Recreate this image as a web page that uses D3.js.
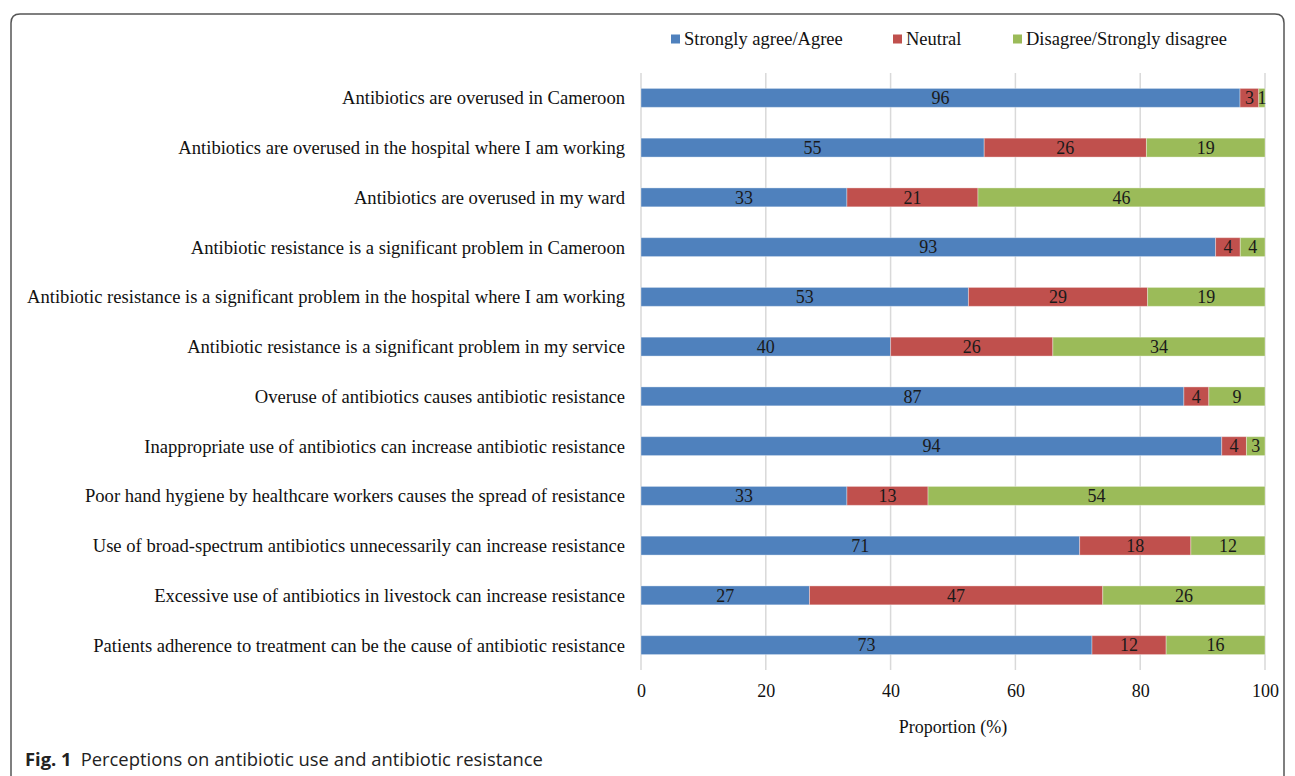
<!DOCTYPE html>
<meta charset="utf-8">
<style>
body { margin: 0; background: #fff; }
svg text { font-family: "Liberation Serif", "Times New Roman", serif; fill: #111; }
.cat { font-size: 18.6px; }
.val { font-size: 18px; fill: #1a1a1a; }
.tick text { font-size: 18px; }
.legend text { font-size: 18.5px; }
.caption { font-family: "Open Sans", "Noto Sans", sans-serif; font-size: 18.4px; fill: #222; }
</style>
<svg id="chart" width="1295" height="776"></svg>
<script src="https://cdn.jsdelivr.net/npm/d3@7"></script>
<script>
// statements, top to bottom
var statements = [
  "Antibiotics are overused in Cameroon",
  "Antibiotics are overused in the hospital where I am working",
  "Antibiotics are overused in my ward",
  "Antibiotic resistance is a  significant problem in Cameroon",
  "Antibiotic resistance is a significant problem in the hospital where I am working",
  "Antibiotic resistance is a significant problem in my service",
  "Overuse of antibiotics causes antibiotic resistance",
  "Inappropriate use of antibiotics can increase antibiotic resistance",
  "Poor hand hygiene by healthcare workers causes the spread of resistance",
  "Use of broad-spectrum antibiotics unnecessarily can increase resistance",
  "Excessive use of antibiotics in livestock can increase resistance",
  "Patients adherence to treatment can be the cause of antibiotic resistance"
];
var agree    = [96, 55, 33, 93, 53, 40, 87, 94, 33, 71, 27, 73];
var neutral  = [3, 26, 21, 4, 29, 26, 4, 4, 13, 18, 47, 12];
var disagree = [1, 19, 46, 4, 19, 34, 9, 3, 54, 12, 26, 16];
var seriesNames = ["Strongly agree/Agree", "Neutral", "Disagree/Strongly disagree"];
var seriesColors = ["#4f81bd", "#c0504d", "#9bbb59"];
var tickValues = [0, 20, 40, 60, 80, 100];

var svg = d3.select("#chart");

// figure frame (rounded top corners, open at the bottom)
svg.append("path")
  .attr("d", "M11,790 L11,23 Q11,14 20,14 L1275,14 Q1284,14 1284,23 L1284,790")
  .attr("fill", "none")
  .attr("stroke", "#555")
  .attr("stroke-width", 1.5);

var x = d3.scaleLinear().domain([0, 100]).range([641, 1265]);
var y = d3.scaleBand().domain(statements).range([73, 670]).paddingInner(0.62).paddingOuter(0.31);

var rows = statements.map(function(s, i) {
  return {statement: s, a: agree[i], n: neutral[i], d: disagree[i]};
});
// bars are shares of the row total, so they all end at 100
var stack = d3.stack().keys(["a", "n", "d"]).offset(d3.stackOffsetExpand);
var layers = stack(rows);

// vertical gridlines
svg.append("g")
  .selectAll("line")
  .data(tickValues)
  .join("line")
    .attr("x1", function(d) { return x(d); })
    .attr("x2", function(d) { return x(d); })
    .attr("y1", 73)
    .attr("y2", 670)
    .attr("stroke", "#d9d9d9")
    .attr("stroke-width", 1.5);

var layer = svg.append("g")
  .selectAll("g")
  .data(layers)
  .join("g")
    .attr("fill", function(d, i) { return seriesColors[i]; });

layer.selectAll("rect")
  .data(function(d) { return d; })
  .join("rect")
    .attr("x", function(d) { return x(d[0] * 100); })
    .attr("width", function(d) { return x(d[1] * 100) - x(d[0] * 100); })
    .attr("y", function(d) { return y(d.data.statement); })
    .attr("height", y.bandwidth())
    .attr("stroke", "rgba(255,255,255,0.35)")
    .attr("stroke-width", 1);

// value labels in the middle of each segment
layer.selectAll("text")
  .data(function(d) { var k = d.key; return d.map(function(p) { return {p: p, v: p.data[k]}; }); })
  .join("text")
    .attr("class", "val")
    .attr("x", function(d) { return x((d.p[0] + d.p[1]) / 2 * 100); })
    .attr("y", function(d) { return y(d.p.data.statement) + y.bandwidth() / 2; })
    .attr("dy", "0.35em")
    .attr("text-anchor", "middle")
    .text(function(d) { return d.v; });

// category labels
svg.append("g")
  .selectAll("text")
  .data(statements)
  .join("text")
    .attr("class", "cat")
    .attr("x", 625)
    .attr("y", function(d) { return y(d) + y.bandwidth() / 2; })
    .attr("dy", "0.35em")
    .attr("text-anchor", "end")
    .text(function(d) { return d; });

// x axis (labels only)
var xAxis = svg.append("g")
  .attr("transform", "translate(0,678)")
  .call(d3.axisBottom(x).tickValues(tickValues).tickSize(0).tickPadding(6));
xAxis.select(".domain").remove();

svg.append("text")
  .attr("x", 953)
  .attr("y", 733)
  .attr("text-anchor", "middle")
  .style("font-size", "18px")
  .text("Proportion (%)");

// legend
var legendX = [671, 893, 1013];
var legend = svg.append("g")
  .attr("class", "legend")
  .selectAll("g")
  .data(seriesNames)
  .join("g")
    .attr("transform", function(d, i) { return "translate(" + legendX[i] + ",39)"; });

legend.append("rect")
  .attr("x", 0).attr("y", -4.5)
  .attr("width", 9).attr("height", 9)
  .attr("fill", function(d, i) { return seriesColors[i]; });

legend.append("text")
  .attr("x", 13)
  .attr("dy", "0.35em")
  .text(function(d) { return d; });

// caption
var cap = svg.append("text")
  .attr("class", "caption")
  .attr("x", 25)
  .attr("y", 766);
cap.append("tspan").style("font-weight", "700").text("Fig. 1");
cap.append("tspan").attr("dx", 9).text("Perceptions on antibiotic use and antibiotic resistance");
</script>
